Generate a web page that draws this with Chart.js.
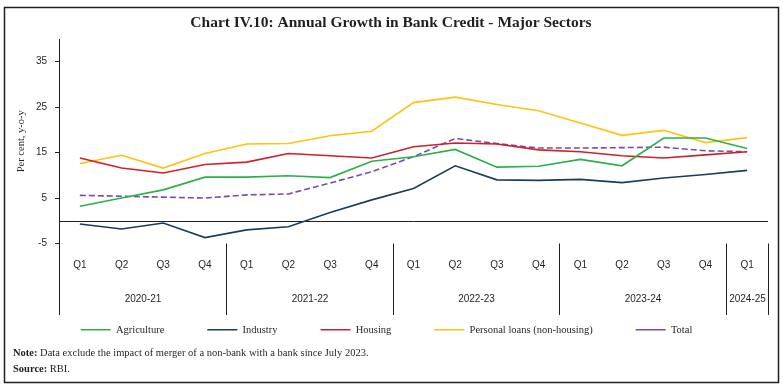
<!DOCTYPE html>
<html>
<head>
<meta charset="utf-8">
<script src="https://cdn.jsdelivr.net/npm/chart.js@4"></script>
<style>
  html, body { margin: 0; padding: 0; background: #fff; }
  canvas { display: block; }
</style>
</head>
<body>
<canvas id="chart" width="783" height="387"></canvas>
<script>
// quarters on the x axis, grouped by financial year
const quarters = ['Q1','Q2','Q3','Q4','Q1','Q2','Q3','Q4','Q1','Q2','Q3','Q4','Q1','Q2','Q3','Q4','Q1'];
const years = ['2020-21','2021-22','2022-23','2023-24','2024-25'];
const yearSpans = [4, 4, 4, 4, 1];

// growth, per cent y-o-y
const agriculture   = [3.2, 5.0, 6.8, 9.6, 9.6, 9.9, 9.5, 13.1, 14.1, 15.7, 11.8, 12.0, 13.5, 12.1, 18.2, 18.2, 15.9];
const industry      = [-0.7, -1.8, -0.5, -3.7, -2.0, -1.3, 1.8, 4.6, 7.1, 12.1, 9.0, 8.9, 9.1, 8.4, 9.4, 10.2, 11.1];
const housing       = [13.8, 11.6, 10.5, 12.4, 12.9, 14.8, 14.3, 13.8, 16.3, 17.1, 16.9, 15.6, 15.2, 14.3, 13.8, 14.5, 15.2];
const personalLoans = [12.6, 14.4, 11.6, 14.8, 16.9, 17.0, 18.7, 19.7, 26.0, 27.2, 25.6, 24.2, 21.5, 18.8, 19.9, 17.2, 18.3];
const total         = [5.6, 5.4, 5.2, 5.0, 5.7, 5.9, 8.3, 10.8, 14.1, 18.1, 17.0, 16.0, 16.0, 16.1, 16.2, 15.4, 15.2];

const yTicks = [-5, 5, 15, 25, 35];

const ink = '#231f20';
const serif = '"Liberation Serif", serif';
const sans = '"Liberation Sans", sans-serif';

const line = (label, data, color, dash) => ({
  label: label,
  data: data,
  borderColor: color,
  backgroundColor: color,
  borderWidth: 1.6,
  borderDash: dash || [],
  pointRadius: 0,
  tension: 0,
  fill: false
});

// zero line, year separators, title, frame and notes
const extras = {
  id: 'extras',
  beforeDatasetsDraw(chart) {
    const {ctx, chartArea: a, scales: {y}} = chart;
    const y0 = Math.round(y.getPixelForValue(0)) + 0.5;
    ctx.save();
    ctx.strokeStyle = ink;
    ctx.lineWidth = 1;
    ctx.beginPath();
    ctx.moveTo(a.left, y0);
    ctx.lineTo(a.right, y0);
    ctx.stroke();
    ctx.restore();
  },
  afterDraw(chart) {
    const {ctx, chartArea: a, scales: {x}} = chart;
    const step = x.getPixelForValue(1) - x.getPixelForValue(0);
    const sepBottom = 315;
    ctx.save();
    ctx.strokeStyle = ink;
    ctx.lineWidth = 1;
    ctx.fillStyle = ink;
    ctx.font = '10px ' + sans;
    ctx.textAlign = 'center';
    ctx.textBaseline = 'middle';
    let idx = 0;
    const edge = (i) => Math.round(x.getPixelForValue(i) - step / 2) + 0.5;
    const sx0 = edge(0);
    ctx.beginPath();
    ctx.moveTo(sx0, a.bottom);
    ctx.lineTo(sx0, sepBottom);
    ctx.stroke();
    years.forEach((yr, k) => {
      const start = edge(idx);
      idx += yearSpans[k];
      const end = edge(idx);
      ctx.beginPath();
      ctx.moveTo(end, a.bottom);
      ctx.lineTo(end, sepBottom);
      ctx.stroke();
      ctx.fillText(yr, (start + end) / 2, 299);
    });

    // title
    ctx.font = 'bold 15.5px ' + serif;
    ctx.fillText('Chart IV.10: Annual Growth in Bank Credit - Major Sectors', 391, 23);

    // outer frame
    ctx.lineWidth = 1.5;
    ctx.strokeRect(4.5, 7.5, 774, 375);

    // notes
    ctx.textAlign = 'left';
    ctx.font = 'bold 10.5px ' + serif;
    ctx.fillText('Note:', 13, 353);
    let w = ctx.measureText('Note: ').width;
    ctx.font = '10.5px ' + serif;
    ctx.fillText('Data exclude the impact of merger of a non-bank with a bank since July 2023.', 13 + w, 353);
    ctx.font = 'bold 10.5px ' + serif;
    ctx.fillText('Source:', 13, 369);
    w = ctx.measureText('Source: ').width;
    ctx.font = '10.5px ' + serif;
    ctx.fillText('RBI.', 13 + w, 369);
    ctx.restore();
  }
};

new Chart(document.getElementById('chart'), {
  type: 'line',
  data: {
    labels: quarters,
    datasets: [
      line('Agriculture', agriculture, '#2bb04a'),
      line('Industry', industry, '#1d3d56'),
      line('Housing', housing, '#d0202b'),
      line('Personal loans (non-housing)', personalLoans, '#ffc20e'),
      line('Total', total, '#7b4aa8', [6, 3])
    ]
  },
  options: {
    responsive: false,
    animation: false,
    layout: { padding: { top: 39, left: 5, right: 15, bottom: 42 } },
    scales: {
      x: {
        offset: true,
        grid: { display: false, drawTicks: false },
        border: { display: false },
        ticks: { color: ink, font: { family: sans, size: 10 }, padding: 16, maxRotation: 0, autoSkip: false },
        afterFit: (s) => { s.height = 38; }
      },
      y: {
        min: -5,
        max: 40,
        border: { display: true, color: ink, width: 1 },
        grid: { drawOnChartArea: false, drawTicks: true, tickLength: 4, color: ink },
        ticks: { color: ink, font: { family: sans, size: 10 }, padding: 8 },
        afterBuildTicks: (s) => { s.ticks = yTicks.map(v => ({ value: v })); },
        title: { display: true, text: 'Per cent, y-o-y', color: ink, font: { family: serif, size: 10.5 }, padding: { top: 10, bottom: 0 } },
        afterFit: (s) => { s.width = 54; }
      }
    },
    plugins: {
      title: { display: false },
      tooltip: { enabled: false },
      legend: {
        position: 'bottom',
        labels: {
          usePointStyle: true,
          pointStyle: 'line',
          pointStyleWidth: 30,
          color: ink,
          font: { family: serif, size: 10.5 },
          padding: 43
        }
      }
    }
  },
  plugins: [extras]
});
</script>
</body>
</html>
